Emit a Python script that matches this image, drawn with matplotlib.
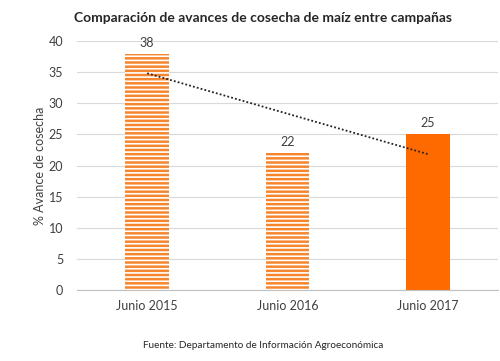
import numpy as np
import matplotlib.pyplot as plt

plt.rcParams['font.family'] = ['Lato', 'DejaVu Sans']
plt.rcParams['hatch.linewidth'] = 1.2

campanas = ['Junio 2015', 'Junio 2016', 'Junio 2017']
avance = [38, 22, 25]
rayado = [True, True, False]

naranja = '#FF6A00'
gris_texto = '#404040'

fig = plt.figure(figsize=(5, 3.61), dpi=100)
ax = fig.add_axes([0.154, 0.197, 0.842, 0.689])

x = np.arange(len(campanas))
for xi, v, r in zip(x, avance, rayado):
    if r:
        ax.bar(xi, v, width=0.31, color='#F5862E', edgecolor='white',
               linewidth=0, hatch='----', zorder=2)
    else:
        ax.bar(xi, v, width=0.31, color=naranja, linewidth=0, zorder=2)
    ax.text(xi, v + 0.8, str(v), ha='center', va='bottom', fontsize=9,
            color=gris_texto)

# linea de tendencia lineal
m, b = np.polyfit(x, avance, 1)
ax.plot(x, m * x + b, color='#222222', linestyle=(0, (1, 1.2)),
        linewidth=1.3, zorder=3)

ax.set_xlim(-0.5, 2.5)
ax.set_ylim(0, 40)
ax.set_yticks(range(0, 41, 5))
ax.set_xticks(x)
ax.set_xticklabels(campanas)
ax.tick_params(axis='both', length=0, labelsize=9, colors=gris_texto)
ax.tick_params(axis='y', pad=10)
ax.tick_params(axis='x', pad=7)
ax.grid(axis='y', color='#D9D9D9', linewidth=0.8, zorder=0)
ax.set_axisbelow(True)
for s in ['left', 'right', 'top']:
    ax.spines[s].set_visible(False)
ax.spines['bottom'].set_color('#BFBFBF')
ax.set_ylabel('% Avance de cosecha', fontsize=9, color=gris_texto, labelpad=2)

fig.text(0.526, 0.950, 'Comparación de avances de cosecha de maíz entre campañas',
         ha='center', va='center', fontsize=10, fontweight='bold', color='#262626')
fig.text(0.526, 0.042, 'Fuente: Departamento de Información Agroeconómica',
         ha='center', va='center', fontsize=7.2, color='#262626')

fig.savefig('out.png', dpi=100)
